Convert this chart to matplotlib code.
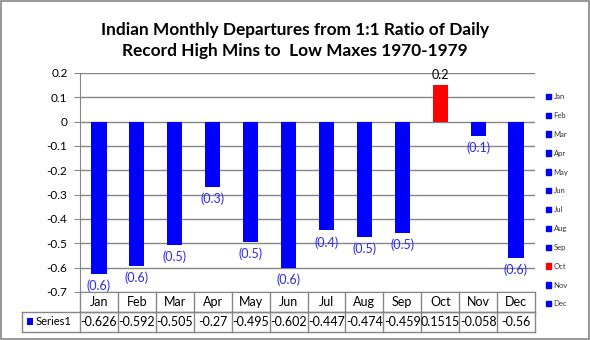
import matplotlib
matplotlib.use("Agg")
from matplotlib import pyplot as plt
from matplotlib.patches import Rectangle, Patch
from matplotlib.transforms import blended_transform_factory

plt.rcParams['font.family'] = ['Lato', 'DejaVu Sans']

months = ["Jan", "Feb", "Mar", "Apr", "May", "Jun", "Jul", "Aug", "Sep", "Oct", "Nov", "Dec"]
values = [-0.626, -0.592, -0.505, -0.27, -0.495, -0.602, -0.447, -0.474, -0.459, 0.1515, -0.058, -0.56]
series_name = "Series1"
title = "Indian Monthly Departures from 1:1 Ratio of Daily\nRecord High Mins to  Low Maxes 1970-1979"
yticks = [0.2, 0.1, 0, -0.1, -0.2, -0.3, -0.4, -0.5, -0.6, -0.7]

blue = "#0000ff"
red = "#ff0000"
grey = "#868686"
colors = [red if v > 0 else blue for v in values]

fig = plt.figure(figsize=(5.9, 3.4), dpi=100)
fig.patches.append(Rectangle((0.001, 0.002), 0.997, 0.995, transform=fig.transFigure,
                             fill=False, edgecolor=grey, linewidth=1.2))

ax = fig.add_axes([0.1356, 0.1412, 0.7712, 0.6441])
x = list(range(len(months)))
ax.bar(x, values, width=0.4, color=colors, zorder=3)
ax.set_xlim(-0.5, len(months) - 0.5)
ax.set_ylim(-0.7, 0.2)
ax.set_yticks(yticks)
ax.set_yticklabels([("%g" % t) for t in yticks], fontsize=8.5)
ax.yaxis.grid(True, color=grey, linewidth=1)
ax.set_axisbelow(True)
ax.tick_params(axis='y', length=4, color=grey, pad=5)
ax.set_xticks([])
for s in ["top", "right"]:
    ax.spines[s].set_visible(False)
ax.spines["left"].set_color(grey)
ax.spines["bottom"].set_color(grey)

# data labels
for xi, v in zip(x, values):
    if v < 0:
        ax.annotate("(%.1f)" % abs(v), (xi, v), xytext=(0, -4), textcoords="offset points",
                    ha="center", va="top", fontsize=9, color="#2a2ae8")
    else:
        ax.annotate("%.1f" % v, (xi, v), xytext=(0, 3), textcoords="offset points",
                    ha="center", va="bottom", fontsize=9, color="black")

# data table under the axis
tr = blended_transform_factory(ax.transData, ax.transAxes)
rh = 20 / 219.0
lab_left = -0.5 - 58 / 37.9
lc = dict(color=grey, linewidth=1, transform=tr, clip_on=False)
ax.plot([-0.5, 11.5], [-rh, -rh], **lc)
ax.plot([lab_left, 11.5], [-rh, -rh], **lc)
ax.plot([lab_left, 11.5], [-2 * rh, -2 * rh], **lc)
ax.plot([lab_left, lab_left], [-rh, -2 * rh], **lc)
for i in range(len(months) + 1):
    ax.plot([i - 0.5, i - 0.5], [0, -2 * rh], **lc)
for xi, m, v in zip(x, months, values):
    ax.text(xi, -rh / 2, m, transform=tr, ha="center", va="center", fontsize=9)
    ax.text(xi, -1.5 * rh, str(v), transform=tr, ha="center", va="center", fontsize=9)
ax.add_patch(Rectangle((lab_left + 0.12, -1.5 * rh - 0.016), 0.16, 0.032, transform=tr,
                       facecolor=blue, clip_on=False))
ax.text(lab_left + 0.35, -1.5 * rh, series_name, transform=tr, ha="left", va="center", fontsize=8)

fig.suptitle(title, x=0.5, y=0.935, fontsize=12.4, fontweight="bold", linespacing=1.35)

handles = [Patch(facecolor=c, edgecolor=c) for c in colors]
fig.legend(handles, months, loc="upper left", bbox_to_anchor=(0.92, 0.735), frameon=False,
           fontsize=5.5, handlelength=0.7, handleheight=0.7, handletextpad=0.3,
           labelspacing=1.55, borderaxespad=0, labelcolor="#333333")

fig.savefig("out.png", dpi=100)
